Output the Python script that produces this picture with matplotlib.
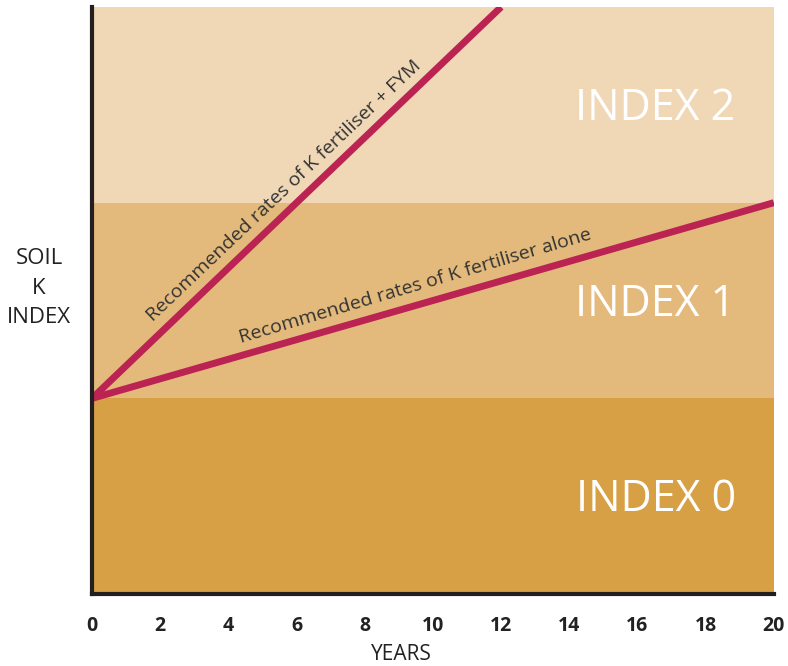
import matplotlib
matplotlib.use('Agg')
import matplotlib.pyplot as plt

# soil K index bands (lower, upper) and their labels
band_names = ["INDEX 0", "INDEX 1", "INDEX 2"]
band_lower = [0, 1, 2]
band_upper = [1, 2, 3]
band_colors = ["#D7A045", "#E4BA7C", "#F0D7B5"]

# the two build-up lines, years vs soil index
fym_years = [0, 12]
fym_index = [1.0, 3.0]
alone_years = [0, 20]
alone_index = [1.0, 2.0]

year_ticks = [0, 2, 4, 6, 8, 10, 12, 14, 16, 18, 20]

plt.rcParams['font.family'] = ['Open Sans', 'DejaVu Sans']

fig = plt.figure(figsize=(7.88, 6.66), dpi=100)
ax = fig.add_axes([0.1168, 0.108, 0.8652, 0.8815])

for name, lo, hi, col in zip(band_names, band_lower, band_upper, band_colors):
    ax.axhspan(lo, hi, color=col, lw=0, zorder=0)
    ax.text(18.88, (lo + hi) / 2 - 0.02, name, color='white', fontsize=31,
            ha='right', va='center')

line_col = "#BB2353"
ax.plot(fym_years, fym_index, color=line_col, lw=5, solid_capstyle='butt', zorder=3)
ax.plot(alone_years, alone_index, color=line_col, lw=5, solid_capstyle='butt', zorder=3)

ax.text(5.64, 2.06, "Recommended rates of K fertiliser + FYM", rotation=43.5,
        rotation_mode='anchor', ha='center', va='center', fontsize=14, color='#333333')
ax.text(9.49, 1.574, "Recommended rates of K fertiliser alone", rotation=16.5,
        rotation_mode='anchor', ha='center', va='center', fontsize=14, color='#333333')

ax.set_xlim(0, 20)
ax.set_ylim(0, 3)
ax.set_xticks(year_ticks)
ax.set_xticklabels([str(t) for t in year_ticks], fontweight='bold', fontsize=14, color='#222222')
ax.set_yticks([])
ax.tick_params(axis='x', length=0, pad=16)

for s in ['top', 'right']:
    ax.spines[s].set_visible(False)
for s in ['left', 'bottom']:
    ax.spines[s].set_linewidth(3)
    ax.spines[s].set_color('#231F20')
    ax.spines[s].set_zorder(5)

fig.text(401 / 788, 1 - 654 / 666, "YEARS", ha='center', va='center', fontsize=15,
         color='#222222')
fig.text(39 / 788, 1 - 288 / 666, "SOIL\nK\nINDEX", ha='center', va='center',
         fontsize=16, color='#222222', linespacing=1.55)

fig.savefig("out.png", dpi=100)
